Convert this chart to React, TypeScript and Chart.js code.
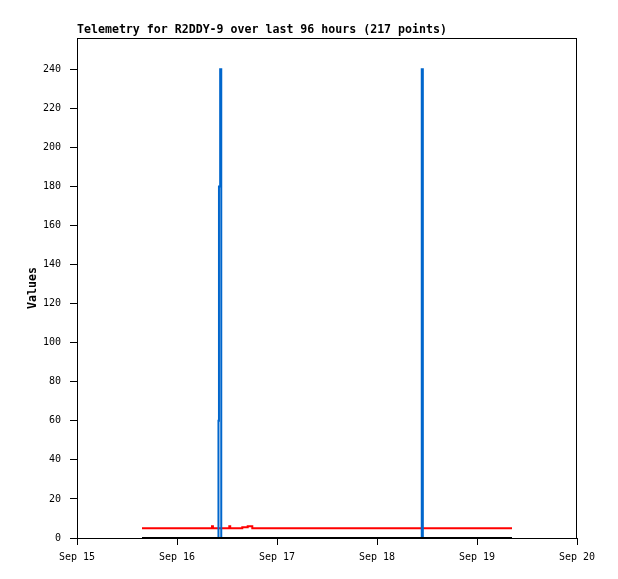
import React, { useEffect, useRef } from "react";
import { Chart, registerables } from "chart.js";

Chart.register(...registerables);

// Hours since Sep 15 00:00
const dayLabels = ["Sep 15", "Sep 16", "Sep 17", "Sep 18", "Sep 19", "Sep 20"];
const yTicks = [0, 20, 40, 60, 80, 100, 120, 140, 160, 180, 200, 220, 240];

const redTimes = [15.6, 32.4, 32.62, 36.55, 36.77, 39.67, 40.97, 42.07, 104.4];
const redValues = [5, 6, 5, 6, 5, 5.5, 6, 5, 5];

const blueTimes = [15.6, 33.95, 34.07, 34.36, 34.62, 82.74, 83.0, 104.4];
const blueValues = [0, 60, 180, 240, 0, 240, 0, 0];

const blackTimes = [15.6, 104.4];
const blackValues = [0, 0];

const titleText = "Telemetry for R2DDY-9 over last 96 hours (217 points)";
const yAxisTitle = "Values";

const toPoints = (xs: number[], ys: number[]) => xs.map((x, i) => ({ x, y: ys[i] }));

export default function App() {
  const ref = useRef<HTMLCanvasElement | null>(null);

  useEffect(() => {
    if (!ref.current) return;
    const textPlugin = {
      id: "frameAndText",
      afterDatasetsDraw(chart: any) {
        const { ctx, chartArea } = chart;
        ctx.save();
        ctx.strokeStyle = "#000";
        ctx.lineWidth = 1;
        ctx.strokeRect(chartArea.left + 0.5, chartArea.top + 0.5, chartArea.right - chartArea.left - 1, chartArea.bottom - chartArea.top);
        ctx.restore();
      },
      afterDraw(chart: any) {
        const { ctx, chartArea } = chart;
        ctx.save();
        ctx.fillStyle = "#000";
        ctx.font = "bold 11.6px 'DejaVu Sans Mono'";
        ctx.textAlign = "left";
        ctx.textBaseline = "alphabetic";
        ctx.fillText(titleText, chartArea.left, 33);
        ctx.translate(36, (chartArea.top + chartArea.bottom) / 2);
        ctx.rotate(-Math.PI / 2);
        ctx.textAlign = "center";
        ctx.fillText(yAxisTitle, 0, 0);
        ctx.restore();
      },
    };

    const common = {
      borderWidth: 2,
      pointRadius: 0,
      tension: 0,
      stepped: "before" as const,
      borderJoinStyle: "miter" as const,
      borderCapStyle: "butt" as const,
    };

    const chart = new Chart(ref.current, {
      type: "line",
      data: {
        datasets: [
          { label: "black", data: toPoints(blackTimes, blackValues), borderColor: "#000000", ...common },
          { label: "blue", data: toPoints(blueTimes, blueValues), borderColor: "#0066cc", ...common },
          { label: "red", data: toPoints(redTimes, redValues), borderColor: "#ff0000", ...common },
        ],
      },
      options: {
        animation: false,
        responsive: false,
        maintainAspectRatio: false,
        layout: { padding: { top: 38, right: 41, left: 0, bottom: 0 } },
        plugins: {
          legend: { display: false },
          tooltip: { enabled: false },
          title: { display: false },
        },
        scales: {
          x: {
            type: "linear",
            min: 0,
            max: 120,
            afterFit: (s: any) => {
              s.height = 41;
            },
            border: { display: false },
            grid: { drawOnChartArea: false, drawTicks: true, tickLength: 7, color: "#000", lineWidth: 1 },
            ticks: {
              stepSize: 24,
              padding: 6,
              color: "#000",
              font: { family: "'DejaVu Sans Mono'", size: 10 },
              maxRotation: 0,
              autoSkip: false,
              callback: (v: any) => dayLabels[Math.round(Number(v) / 24)] ?? "",
            },
          },
          y: {
            type: "linear",
            min: 0,
            max: 256,
            afterFit: (s: any) => {
              s.width = 77;
            },
            afterBuildTicks: (s: any) => {
              s.ticks = yTicks.map((v) => ({ value: v }));
            },
            border: { display: false },
            grid: { drawOnChartArea: false, drawTicks: true, tickLength: 7, color: "#000", lineWidth: 1 },
            ticks: {
              padding: 9,
              color: "#000",
              font: { family: "'DejaVu Sans Mono'", size: 10 },
              autoSkip: false,
            },
          },
        },
      },
      plugins: [textPlugin],
    });
    return () => chart.destroy();
  }, []);

  return (
    <div style={{ position: "absolute", left: 0, top: 0, width: 618, height: 579, background: "#fff" }}>
      <canvas ref={ref} width={618} height={579} style={{ width: 618, height: 579, display: "block" }} />
    </div>
  );
}
